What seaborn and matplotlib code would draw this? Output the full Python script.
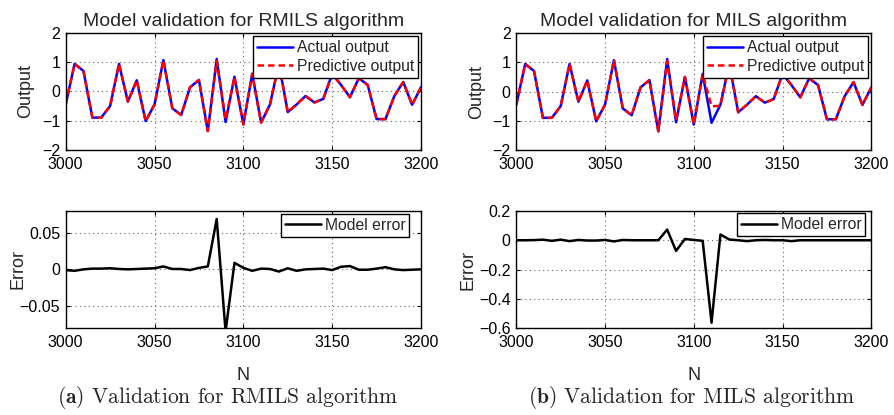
import matplotlib
matplotlib.use("Agg")
import matplotlib.pyplot as plt
import seaborn as sns
import numpy as np
import pandas as pd
from matplotlib.ticker import FuncFormatter

# ---------------- data ----------------
N = [3000, 3005, 3010, 3015, 3020, 3025, 3030, 3035, 3040, 3045,
     3050, 3055, 3060, 3065, 3070, 3075, 3080, 3085, 3090, 3095,
     3100, 3105, 3110, 3115, 3120, 3125, 3130, 3135, 3140, 3145,
     3150, 3155, 3160, 3165, 3170, 3175, 3180, 3185, 3190, 3195, 3200]

actual = [-0.45, 0.94, 0.70, -0.90, -0.90, -0.50, 0.94, -0.35, 0.38, -1.02,
          -0.45, 1.07, -0.58, -0.81, 0.14, 0.39, -1.36, 1.11, -1.05, 0.50,
          -1.13, 0.60, -1.07, -0.45, 0.95, -0.71, -0.45, -0.16, -0.38, -0.26,
          0.60, 0.22, -0.20, 0.45, 0.22, -0.95, -0.95, -0.16, 0.32, -0.46, 0.14]

pred_rmils = [-0.449, 0.942, 0.700, -0.901, -0.901, -0.502, 0.940, -0.350, 0.380, -1.021,
              -0.452, 1.066, -0.581, -0.811, 0.141, 0.388, -1.364, 1.041, -0.965, 0.491,
              -1.132, 0.602, -1.071, -0.451, 0.953, -0.712, -0.448, -0.160, -0.381, -0.261,
              0.601, 0.217, -0.205, 0.451, 0.221, -0.951, -0.953, -0.160, 0.321, -0.460, 0.140]

err_rmils = [-0.001, -0.002, 0.0, 0.001, 0.001, 0.0015, 0.0005, 0.0, 0.0005, 0.001,
             0.0015, 0.004, 0.0005, 0.0005, -0.001, 0.002, 0.004, 0.069, -0.085, 0.009,
             0.002, -0.002, 0.001, 0.0005, -0.003, 0.0015, -0.002, 0.0, 0.0005, 0.001,
             -0.001, 0.0035, 0.0045, -0.0005, -0.0005, 0.001, 0.003, 0.0, -0.001, -0.0005, 0.0]

pred_mils = [-0.450, 0.940, 0.699, -0.904, -0.896, -0.504, 0.946, -0.352, 0.382, -1.018,
             -0.452, 1.078, -0.582, -0.810, 0.140, 0.390, -1.360, 1.037, -0.977, 0.491,
             -1.132, 0.604, -0.506, -0.489, 0.945, -0.710, -0.444, -0.160, -0.382, -0.260,
             0.600, 0.226, -0.200, 0.450, 0.220, -0.950, -0.950, -0.160, 0.320, -0.460, 0.140]

err_mils = [0.0, 0.0, 0.001, 0.004, -0.004, 0.004, -0.006, 0.002, -0.002, -0.002,
            0.002, -0.008, 0.002, 0.0, 0.0, 0.0, 0.0, 0.073, -0.073, 0.009,
            0.002, -0.004, -0.564, 0.039, 0.005, 0.0, -0.006, 0.0, 0.002, 0.0,
            0.0, -0.006, 0.0, 0.0, 0.0, 0.0, 0.0, 0.0, 0.0, 0.0, 0.0]

titles = ["Model validation for RMILS algorithm", "Model validation for MILS algorithm"]
captions = [r"$\mathbf{(a)}$ Validation for RMILS algorithm",
            r"$\mathbf{(b)}$ Validation for MILS algorithm"]
x_ticks = [3000, 3050, 3100, 3150, 3200]
out_ticks = [-2, -1, 0, 1, 2]
err_ticks = [[-0.05, 0, 0.05], [-0.6, -0.4, -0.2, 0, 0.2]]
err_lims = [(-0.08, 0.08), (-0.6, 0.2)]

# ---------------- style ----------------
sns.set_style("ticks")
plt.rcParams['font.family'] = ['Liberation Sans', 'DejaVu Sans']
plt.rcParams['mathtext.fontset'] = 'cm'

fig = plt.figure(figsize=(8.94, 4.15), dpi=100)

W = 894.0
H = 415.0
def rect(l, r, t, b):
    return [l / W, 1 - b / H, (r - l) / W, (b - t) / H]

AX_W = 355.3
AX_H = 116.7
ax_tl = fig.add_axes(rect(65.7, 421.0, 33.0, 149.7))
ax_bl = fig.add_axes(rect(65.7, 421.0, 211.0, 327.7))
ax_tr = fig.add_axes(rect(516.3, 871.3, 33.0, 150.0))
ax_br = fig.add_axes(rect(516.3, 871.3, 211.0, 328.0))

fmt = FuncFormatter(lambda v, p: ("%g" % v).replace("-", "\u2212"))

def style_axis(ax):
    ax.set_xlim(3000, 3200)
    ax.set_xticks(x_ticks)
    ax.grid(True, linestyle=(0, (1, 3)), color='#666666', linewidth=0.8)
    ax.tick_params(direction='in', top=True, right=True, length=3, width=0.8,
                   labelsize=11.5, colors='black')
    ax.tick_params(axis='x', pad=5)
    ax.tick_params(axis='y', pad=4)
    for s in ax.spines.values():
        s.set_visible(True)
        s.set_linewidth(1.0)
        s.set_color('black')
    ax.yaxis.set_major_formatter(fmt)
    ax.xaxis.set_major_formatter(fmt)

preds = [pred_rmils, pred_mils]
errs = [err_rmils, err_mils]
tops = [ax_tl, ax_tr]
bots = [ax_bl, ax_br]
err_leg_anchor = [(409.3, 214.0), (865.3, 213.3)]

for i in range(2):
    ax = tops[i]
    df = pd.DataFrame({"N": N, "actual": actual, "pred": preds[i]})
    sns.lineplot(data=df, x="N", y="actual", ax=ax, color='#0000ff', lw=1.8,
                 label="Actual output", errorbar=None)
    sns.lineplot(data=df, x="N", y="pred", ax=ax, color='#ff0000', lw=1.8,
                 linestyle=(0, (2.6, 1.6)), label="Predictive output", errorbar=None)
    style_axis(ax)
    ax.set_ylim(-2, 2)
    ax.set_yticks(out_ticks)
    ax.set_xlabel("")
    ax.set_ylabel("Output", fontsize=13)
    ax.yaxis.set_label_coords(-(65.7 - 34.5) / AX_W, 0.5)
    ax.set_title(titles[i], fontsize=14, pad=5)
    ax.legend(loc='upper right', fontsize=11.3, frameon=True, fancybox=False,
              edgecolor='black', framealpha=1, borderaxespad=0.2,
              handlelength=2.3, handletextpad=0.25, borderpad=0.25,
              labelspacing=0.25).get_frame().set_linewidth(1.0)

    ax = bots[i]
    dfe = pd.DataFrame({"N": N, "err": errs[i]})
    sns.lineplot(data=dfe, x="N", y="err", ax=ax, color='black', lw=1.8,
                 label="Model error", errorbar=None)
    style_axis(ax)
    ax.set_ylim(*err_lims[i])
    ax.set_yticks(err_ticks[i])
    ax.set_xlabel("N", fontsize=13)
    ax.xaxis.set_label_coords(0.5, -(366.5 - 327.7) / AX_H)
    ax.set_ylabel("Error", fontsize=13)
    ax.yaxis.set_label_coords(-(65.7 - 26.0) / AX_W, 0.5)
    ax_x, ax_y = err_leg_anchor[i]
    ax.legend(loc='upper right', bbox_to_anchor=(ax_x / W, 1 - ax_y / H),
              bbox_transform=fig.transFigure, borderaxespad=0,
              fontsize=11.3, frameon=True, fancybox=False,
              edgecolor='black', framealpha=1,
              handlelength=2.3, handletextpad=0.25, borderpad=0.25).get_frame().set_linewidth(1.0)

fig.text(227.5 / W, 1 - 403 / H, captions[0], family='cmr10', fontsize=15.5,
         ha='center', va='baseline')
fig.text(692 / W, 1 - 403 / H, captions[1], family='cmr10', fontsize=15.5,
         ha='center', va='baseline')

fig.savefig("out.png", dpi=100)
